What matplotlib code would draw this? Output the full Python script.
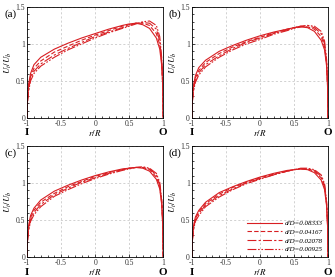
"""
Velocity profiles U_t/U_b across the gap for four d/D ratios, panels (a)-(d).
"""

import numpy as np
import matplotlib.pyplot as plt
from matplotlib.ticker import MultipleLocator

plt.rcParams['font.family'] = ['Liberation Serif', 'DejaVu Serif']
plt.rcParams['mathtext.fontset'] = 'stix'

# radial positions (shared by every curve)
r = [-1, -0.995, -0.98, -0.95, -0.9, -0.8, -0.6, -0.4, -0.2, 0, 0.2, 0.4,
     0.5, 0.6, 0.7, 0.8, 0.9, 0.95, 0.98, 0.995, 1]

labels = ['d/D=0.08333', 'd/D=0.04167', 'd/D=0.02078', 'd/D=0.00925']
panels = ['(a)', '(b)', '(c)', '(d)']

# panel (a)
a1 = [0, 0.25, 0.45, 0.60, 0.72, 0.82, 0.93, 1.01, 1.08, 1.14, 1.20, 1.25, 1.27, 1.28, 1.26, 1.21, 1.08, 0.93, 0.70, 0.40, 0]
a2 = [0, 0.23, 0.41, 0.56, 0.67, 0.77, 0.89, 0.97, 1.05, 1.12, 1.18, 1.24, 1.26, 1.28, 1.28, 1.25, 1.14, 0.99, 0.74, 0.42, 0]
a3 = [0, 0.22, 0.38, 0.53, 0.63, 0.73, 0.85, 0.94, 1.02, 1.10, 1.16, 1.22, 1.25, 1.28, 1.29, 1.28, 1.20, 1.04, 0.77, 0.44, 0]
a4 = [0, 0.20, 0.35, 0.50, 0.60, 0.70, 0.82, 0.92, 1.00, 1.08, 1.15, 1.21, 1.24, 1.27, 1.30, 1.31, 1.25, 1.10, 0.80, 0.45, 0]

# panel (b)
b1 = [0, 0.24, 0.43, 0.57, 0.68, 0.78, 0.90, 0.98, 1.05, 1.11, 1.16, 1.20, 1.22, 1.23, 1.22, 1.17, 1.05, 0.92, 0.70, 0.40, 0]
b2 = [0, 0.22, 0.40, 0.54, 0.64, 0.75, 0.87, 0.96, 1.03, 1.09, 1.15, 1.20, 1.22, 1.24, 1.23, 1.20, 1.10, 0.96, 0.73, 0.42, 0]
b3 = [0, 0.21, 0.37, 0.51, 0.61, 0.72, 0.84, 0.94, 1.02, 1.08, 1.14, 1.19, 1.22, 1.24, 1.25, 1.22, 1.14, 1.00, 0.76, 0.44, 0]
b4 = [0, 0.20, 0.35, 0.48, 0.58, 0.69, 0.82, 0.92, 1.00, 1.06, 1.13, 1.18, 1.21, 1.23, 1.25, 1.24, 1.17, 1.04, 0.79, 0.45, 0]

# panel (c)
c1 = [0, 0.24, 0.42, 0.56, 0.66, 0.77, 0.89, 0.97, 1.04, 1.10, 1.15, 1.19, 1.20, 1.21, 1.20, 1.16, 1.05, 0.92, 0.70, 0.40, 0]
c2 = [0, 0.22, 0.39, 0.53, 0.63, 0.74, 0.86, 0.95, 1.02, 1.09, 1.14, 1.18, 1.20, 1.21, 1.21, 1.18, 1.08, 0.95, 0.72, 0.41, 0]
c3 = [0, 0.21, 0.37, 0.50, 0.60, 0.71, 0.84, 0.93, 1.01, 1.07, 1.13, 1.18, 1.20, 1.21, 1.21, 1.19, 1.11, 0.98, 0.75, 0.43, 0]
c4 = [0, 0.20, 0.35, 0.48, 0.57, 0.68, 0.82, 0.91, 0.99, 1.06, 1.12, 1.17, 1.19, 1.21, 1.22, 1.20, 1.13, 1.01, 0.77, 0.44, 0]

# panel (d)
d1 = [0, 0.23, 0.41, 0.54, 0.63, 0.74, 0.87, 0.95, 1.02, 1.08, 1.13, 1.17, 1.18, 1.19, 1.18, 1.14, 1.04, 0.91, 0.69, 0.40, 0]
d2 = [0, 0.22, 0.39, 0.52, 0.61, 0.72, 0.85, 0.94, 1.01, 1.07, 1.12, 1.16, 1.18, 1.19, 1.19, 1.16, 1.07, 0.94, 0.71, 0.41, 0]
d3 = [0, 0.21, 0.37, 0.50, 0.59, 0.70, 0.83, 0.92, 1.00, 1.06, 1.11, 1.16, 1.18, 1.19, 1.19, 1.17, 1.09, 0.97, 0.73, 0.42, 0]
d4 = [0, 0.20, 0.35, 0.48, 0.56, 0.68, 0.81, 0.91, 0.99, 1.05, 1.11, 1.16, 1.18, 1.20, 1.20, 1.18, 1.11, 0.99, 0.75, 0.43, 0]

data = [[a1, a2, a3, a4], [b1, b2, b3, b4], [c1, c2, c3, c4], [d1, d2, d3, d4]]
styles = ['-', (0, (4, 2)), (0, (8, 2, 2, 2)), (0, (8, 1.5, 1.5, 1.5, 1.5, 1.5))]
red = '#d81e22'

fig = plt.figure(figsize=(3.35, 2.77), dpi=100)
boxes = [[0.081, 0.574, 0.406, 0.401], [0.573, 0.574, 0.406, 0.401],
         [0.081, 0.072, 0.406, 0.401], [0.573, 0.072, 0.406, 0.401]]

for k in range(4):
    ax = fig.add_axes(boxes[k])
    for j in range(4):
        ax.plot(r, data[k][j], color=red, lw=0.8, ls=styles[j], label=labels[j])
    ax.set_xlim(-1, 1)
    ax.set_ylim(0, 1.5)
    ax.xaxis.set_major_locator(MultipleLocator(0.5))
    ax.xaxis.set_minor_locator(MultipleLocator(0.1))
    ax.yaxis.set_major_locator(MultipleLocator(0.5))
    ax.yaxis.set_minor_locator(MultipleLocator(0.1))
    ax.set_xticklabels(['', '-1', '-0.5', '0', '0.5', '1'])
    ax.set_yticklabels(['', '0', '0.5', '1', '1.5'])
    ax.tick_params(which='both', direction='in', labelsize=5.5, pad=1.5, width=0.5,
                   labelcolor='#333333')
    ax.tick_params(which='major', length=2.5)
    ax.tick_params(which='minor', length=1.5)
    ax.grid(True, ls=(0, (3, 3)), color='#bfbfbf', lw=0.5)
    for s in ax.spines.values():
        s.set_linewidth(0.6)
    ax.set_xlabel('$r/R$', fontsize=6.5, labelpad=0)
    ax.set_ylabel('$U_t/U_b$', fontsize=6.5, labelpad=1)
    ax.text(-0.08, 1.4, panels[k], transform=ax.get_yaxis_transform(), fontsize=8,
            ha='right', va='center')
    ax.text(-1, -0.135, 'I', transform=ax.get_xaxis_transform(), fontsize=8,
            fontweight='bold', ha='center', va='center')
    ax.text(1, -0.135, 'O', transform=ax.get_xaxis_transform(), fontsize=8,
            fontweight='bold', ha='center', va='center')
    if k == 3:
        leg = ax.legend(loc='lower right', fontsize=5, frameon=False, handlelength=5,
                        labelspacing=0.4, borderaxespad=0.3, handletextpad=0.5)
        for t in leg.get_texts():
            t.set_fontstyle('italic')

fig.savefig('out.png', dpi=100)
